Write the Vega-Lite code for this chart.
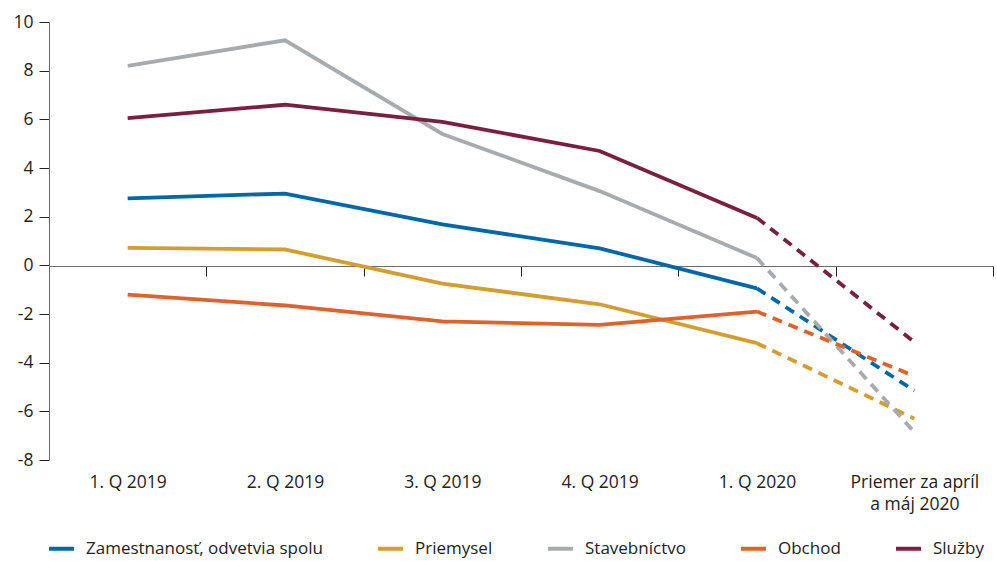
{
  "$schema": "https://vega.github.io/schema/vega-lite/v6.json",
  "width": 944,
  "height": 438,
  "autosize": {"type": "none"},
  "padding": {"left": 49, "top": 22, "right": 4, "bottom": 101},
  "background": "white",
  "config": {
    "font": "Open Sans",
    "view": {"stroke": null},
    "axis": {"labelFont": "Open Sans", "labelColor": "#222222", "domainColor": "#6b6b6b", "tickColor": "#222222", "grid": false}
  },
  "data": {
    "values": [
      {"obdobie": "1. Q 2019", "rad": "Zamestnanosť, odvetvia spolu", "hodnota": 2.75},
      {"obdobie": "2. Q 2019", "rad": "Zamestnanosť, odvetvia spolu", "hodnota": 2.95},
      {"obdobie": "3. Q 2019", "rad": "Zamestnanosť, odvetvia spolu", "hodnota": 1.68},
      {"obdobie": "4. Q 2019", "rad": "Zamestnanosť, odvetvia spolu", "hodnota": 0.7},
      {"obdobie": "1. Q 2020", "rad": "Zamestnanosť, odvetvia spolu", "hodnota": -0.95},
      {"obdobie": "Priemer za apríl a máj 2020", "rad": "Zamestnanosť, odvetvia spolu", "hodnota": -5.15},
      {"obdobie": "1. Q 2019", "rad": "Priemysel", "hodnota": 0.72},
      {"obdobie": "2. Q 2019", "rad": "Priemysel", "hodnota": 0.65},
      {"obdobie": "3. Q 2019", "rad": "Priemysel", "hodnota": -0.75},
      {"obdobie": "4. Q 2019", "rad": "Priemysel", "hodnota": -1.6},
      {"obdobie": "1. Q 2020", "rad": "Priemysel", "hodnota": -3.2},
      {"obdobie": "Priemer za apríl a máj 2020", "rad": "Priemysel", "hodnota": -6.3},
      {"obdobie": "1. Q 2019", "rad": "Stavebníctvo", "hodnota": 8.2},
      {"obdobie": "2. Q 2019", "rad": "Stavebníctvo", "hodnota": 9.25},
      {"obdobie": "3. Q 2019", "rad": "Stavebníctvo", "hodnota": 5.4},
      {"obdobie": "4. Q 2019", "rad": "Stavebníctvo", "hodnota": 3.05},
      {"obdobie": "1. Q 2020", "rad": "Stavebníctvo", "hodnota": 0.3},
      {"obdobie": "Priemer za apríl a máj 2020", "rad": "Stavebníctvo", "hodnota": -6.85},
      {"obdobie": "1. Q 2019", "rad": "Obchod", "hodnota": -1.2},
      {"obdobie": "2. Q 2019", "rad": "Obchod", "hodnota": -1.65},
      {"obdobie": "3. Q 2019", "rad": "Obchod", "hodnota": -2.3},
      {"obdobie": "4. Q 2019", "rad": "Obchod", "hodnota": -2.45},
      {"obdobie": "1. Q 2020", "rad": "Obchod", "hodnota": -1.9},
      {"obdobie": "Priemer za apríl a máj 2020", "rad": "Obchod", "hodnota": -4.55},
      {"obdobie": "1. Q 2019", "rad": "Služby", "hodnota": 6.05},
      {"obdobie": "2. Q 2019", "rad": "Služby", "hodnota": 6.6},
      {"obdobie": "3. Q 2019", "rad": "Služby", "hodnota": 5.9},
      {"obdobie": "4. Q 2019", "rad": "Služby", "hodnota": 4.7},
      {"obdobie": "1. Q 2020", "rad": "Služby", "hodnota": 1.95},
      {"obdobie": "Priemer za apríl a máj 2020", "rad": "Služby", "hodnota": -3.15}
    ]
  },
  "encoding": {
    "x": {
      "field": "obdobie",
      "type": "nominal",
      "sort": null,
      "scale": {"type": "band", "paddingInner": 0, "paddingOuter": 0},
      "axis": {
        "title": null,
        "labelAngle": 0,
        "labelFontSize": 17.5,
        "offset": -194,
        "tickBand": "extent",
        "tickSize": 10,
        "labelPadding": 197,
        "labelLineHeight": 22,
        "labelBaseline": "top",
        "labelExpr": "datum.label == 'Priemer za apríl a máj 2020' ? ['Priemer za apríl', 'a máj 2020'] : datum.label"
      }
    },
    "y": {
      "field": "hodnota",
      "type": "quantitative",
      "scale": {"domain": [-8, 10], "nice": false, "zero": false},
      "axis": {
        "title": null,
        "labelFontSize": 17.5,
        "values": [-8, -6, -4, -2, 0, 2, 4, 6, 8, 10],
        "tickSize": 10,
        "labelPadding": 6,
        "labelExpr": "replace(datum.label, '−', '-')"
      }
    },
    "color": {
      "field": "rad",
      "type": "nominal",
      "scale": {
        "domain": ["Zamestnanosť, odvetvia spolu", "Priemysel", "Stavebníctvo", "Obchod", "Služby"],
        "range": ["#0068a8", "#d39d2f", "#a8abae", "#e0622b", "#7a1f40"]
      },
      "legend": {
        "title": null,
        "orient": "none",
        "direction": "horizontal",
        "legendX": -2,
        "legendY": 512,
        "symbolType": "stroke",
        "symbolSize": 625,
        "symbolStrokeWidth": 4,
        "labelFontSize": 17,
        "labelColor": "#222222",
        "labelOffset": 10,
        "columnPadding": 47,
        "labelLimit": 400
      }
    }
  },
  "layer": [
    {
      "transform": [{"filter": "datum.obdobie != 'Priemer za apríl a máj 2020'"}],
      "mark": {"type": "line", "strokeWidth": 3.8, "strokeJoin": "miter"}
    },
    {
      "transform": [{"filter": "datum.obdobie == '1. Q 2020' || datum.obdobie == 'Priemer za apríl a máj 2020'"}],
      "mark": {"type": "line", "strokeWidth": 3.8, "strokeDash": [10, 7]}
    }
  ]
}
